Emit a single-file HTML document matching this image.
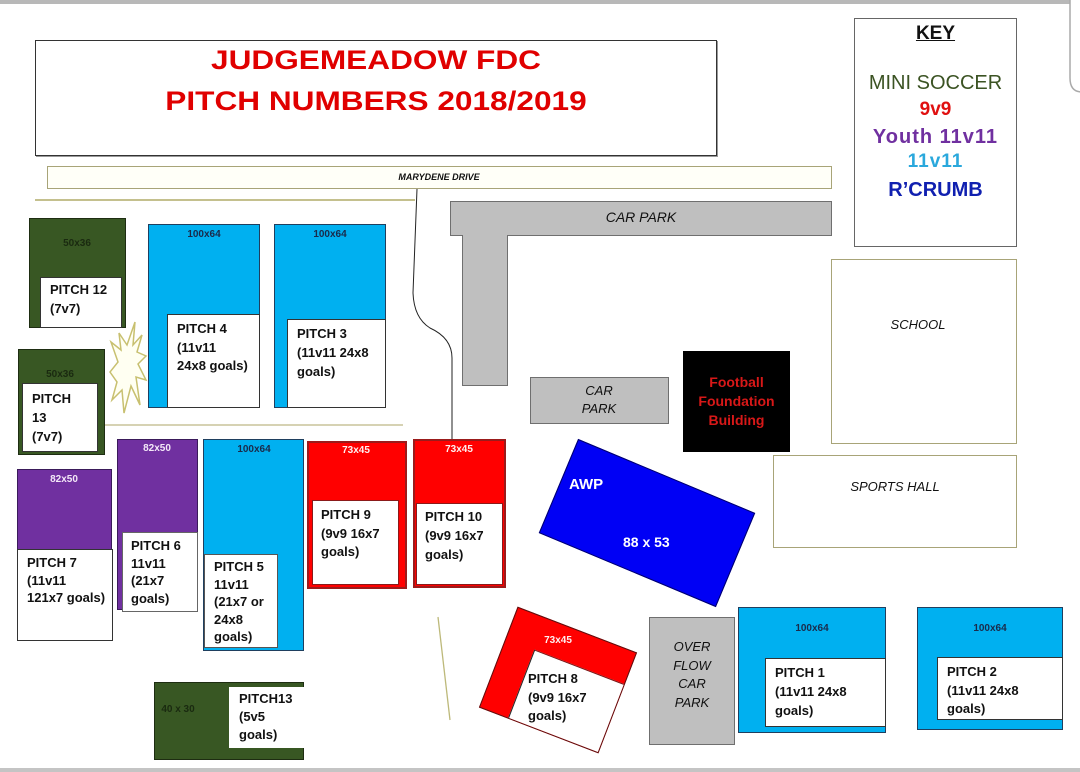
<!DOCTYPE html>
<html><head><meta charset="utf-8"><style>
html,body{margin:0;padding:0}
body{width:1080px;height:772px;position:relative;overflow:hidden;background:#fff;font-family:"Liberation Sans",sans-serif}
.a{position:absolute;box-sizing:border-box}
.g{background:#385723;border:1.5px solid #1e2d12}
.b{background:#00b0f0;border:1px solid #1f3f5f}
.p{background:#7030a0;border:1px solid #3a1a5a}
.r{background:#ff0000;border:2px solid #9b1b1b}
.w{background:#fff;border:1px solid #333}
.gr{background:#bfbfbf;border:1.5px solid #6f6f6f}
.lbl{position:absolute;font-weight:bold;font-size:13px;color:#111;white-space:nowrap}
.sz{position:absolute;font-weight:bold;font-size:10px;line-height:10px;white-space:nowrap;transform:translateX(-50%)}
.it{position:absolute;font-style:italic;color:#111;white-space:nowrap;transform:translateX(-50%);text-align:center}
.k{position:absolute;left:854px;width:163px;text-align:center;white-space:nowrap;line-height:20px}
</style></head><body>

<!-- frame edges -->
<div class="a" style="left:0;top:0;width:1070px;height:4px;background:#b8b8b8"></div>
<div class="a" style="left:0;top:768px;width:1080px;height:4px;background:#c4c4c4"></div>

<svg class="a" style="left:0;top:0" width="1080" height="772">
  <path d="M1070 0 L1070 78 Q1070 92 1082 92" fill="none" stroke="#aaa" stroke-width="1.5"/>
  <line x1="35" y1="200" x2="415" y2="200" stroke="#c4c08e" stroke-width="2"/>
  <line x1="104" y1="425" x2="403" y2="425" stroke="#c8c49a" stroke-width="1.5"/>
  <path d="M417 189 L413 293 Q414 318 430 328 Q452 338 452 358 L452 439" fill="none" stroke="#222" stroke-width="1"/>
  <line x1="438" y1="617" x2="450" y2="720" stroke="#bdb97a" stroke-width="1.3"/>
  <polygon points="135,322 133,345 142,335 137,352 146,356 138,364 146,380 136,377 140,405 131,386 124,413 122,390 112,400 117,382 110,372 118,362 111,342 121,350 119,333 127,345" fill="#fffff2" stroke="#c8c070" stroke-width="1.5"/>
</svg>

<!-- title -->
<div class="a" style="left:35px;top:40px;width:682px;height:116px;border:1px solid #333;box-shadow:1px 1px 0 #999"></div>
<div class="a" style="left:35px;top:40px;width:682px;text-align:center;color:#e00000;font-weight:bold;font-size:27px;line-height:41px;transform:scaleX(1.17);transform-origin:50% 0;white-space:nowrap">JUDGEMEADOW FDC<br>PITCH NUMBERS 2018/2019</div>

<!-- road -->
<div class="a" style="left:47px;top:166px;width:785px;height:23px;border:1px solid #a8a478;background:#fffff8"></div>
<div class="it" style="left:439px;top:172px;font-size:9px;font-weight:bold;line-height:10px">MARYDENE DRIVE</div>

<!-- key -->
<div class="a" style="left:854px;top:18px;width:163px;height:229px;border:1.5px solid #666"></div>
<div class="k" style="top:24px;font-weight:bold;font-size:19px;text-decoration:underline;color:#111">KEY</div>
<div class="k" style="top:73px;font-size:20px;color:#3b5323">MINI SOCCER</div>
<div class="k" style="top:100px;font-weight:bold;font-size:19px;color:#e01010">9v9</div>
<div class="k" style="top:127px;font-weight:bold;font-size:20px;color:#7030a0;letter-spacing:1px">Youth 11v11</div>
<div class="k" style="top:152px;font-weight:bold;font-size:19px;color:#2aa8dc;letter-spacing:1px">11v11</div>
<div class="k" style="top:180px;font-weight:bold;font-size:20px;color:#1020b0">R’CRUMB</div>

<!-- school / sports hall -->
<div class="a" style="left:831px;top:259px;width:186px;height:185px;border:1px solid #a8a478"></div>
<div class="it" style="left:918px;top:318px;font-size:13px;line-height:14px">SCHOOL</div>
<div class="a" style="left:773px;top:455px;width:244px;height:93px;border:1px solid #a8a478"></div>
<div class="it" style="left:895px;top:480px;font-size:13px;line-height:14px">SPORTS HALL</div>

<!-- car parks -->
<div class="a gr" style="left:450px;top:201px;width:382px;height:35px"></div>
<div class="it" style="left:641px;top:210px;font-size:14px;line-height:14px">CAR PARK</div>
<div class="a gr" style="left:462px;top:235px;width:46px;height:151px;border-top:none"></div>
<div class="a gr" style="left:530px;top:377px;width:139px;height:47px"></div>
<div class="it" style="left:599px;top:382px;font-size:13px;line-height:18px">CAR<br>PARK</div>

<!-- football foundation -->
<div class="a" style="left:683px;top:351px;width:107px;height:101px;background:#000"></div>
<div class="a" style="left:683px;top:373px;width:107px;text-align:center;color:#d81818;font-weight:bold;font-size:14px;line-height:19px">Football<br>Foundation<br>Building</div>

<!-- AWP -->
<div class="a" style="left:551px;top:472px;width:192px;height:102px;background:#0000f5;border:1px solid #00006a;transform:rotate(22.7deg)"></div>
<div class="a" style="left:569px;top:477px;color:#fff;font-weight:bold;font-size:15px;line-height:15px">AWP</div>
<div class="a" style="left:623px;top:535px;color:#fff;font-weight:bold;font-size:14px;line-height:14px">88 x 53</div>

<!-- Pitch 12 -->
<div class="a g" style="left:29px;top:218px;width:97px;height:110px"></div>
<div class="a w" style="left:40px;top:277px;width:82px;height:51px"></div>
<div class="sz" style="left:77px;top:239px;color:#1a2a10">50x36</div>
<div class="lbl" style="left:50px;top:280px;line-height:19px">PITCH 12<br>(7v7)</div>

<!-- Pitch 13 -->
<div class="a g" style="left:18px;top:349px;width:87px;height:106px"></div>
<div class="a w" style="left:22px;top:383px;width:76px;height:69px"></div>
<div class="sz" style="left:60px;top:370px;color:#1a2a10">50x36</div>
<div class="lbl" style="left:32px;top:389px;line-height:19px">PITCH<br>13<br>(7v7)</div>

<!-- Pitch 4 -->
<div class="a b" style="left:148px;top:224px;width:112px;height:184px"></div>
<div class="a w" style="left:167px;top:314px;width:93px;height:94px"></div>
<div class="sz" style="left:204px;top:230px;color:#1a2a4a">100x64</div>
<div class="lbl" style="left:177px;top:320px;line-height:18.5px">PITCH 4<br>(11v11<br>24x8 goals)</div>

<!-- Pitch 3 -->
<div class="a b" style="left:274px;top:224px;width:112px;height:184px"></div>
<div class="a w" style="left:287px;top:319px;width:99px;height:89px"></div>
<div class="sz" style="left:330px;top:230px;color:#1a2a4a">100x64</div>
<div class="lbl" style="left:297px;top:324px;line-height:19px">PITCH 3<br>(11v11 24x8<br>goals)</div>

<!-- Pitch 7 -->
<div class="a p" style="left:17px;top:469px;width:95px;height:172px"></div>
<div class="a w" style="left:17px;top:549px;width:96px;height:92px"></div>
<div class="sz" style="left:64px;top:475px;color:#f4e8f8">82x50</div>
<div class="lbl" style="left:27px;top:554px;line-height:17.5px">PITCH 7<br>(11v11<br>121x7 goals)</div>

<!-- Pitch 6 -->
<div class="a p" style="left:117px;top:439px;width:81px;height:171px"></div>
<div class="a w" style="left:122px;top:532px;width:76px;height:80px;border-color:#666"></div>
<div class="sz" style="left:157px;top:444px;color:#f4e8f8">82x50</div>
<div class="lbl" style="left:131px;top:537px;line-height:17.7px">PITCH 6<br>11v11<br>(21x7<br>goals)</div>

<!-- Pitch 5 -->
<div class="a b" style="left:203px;top:439px;width:101px;height:212px"></div>
<div class="a w" style="left:204px;top:554px;width:74px;height:94px;border-color:#555"></div>
<div class="sz" style="left:254px;top:445px;color:#1a2a4a">100x64</div>
<div class="lbl" style="left:214px;top:558px;line-height:17.5px">PITCH 5<br>11v11<br>(21x7 or<br>24x8<br>goals)</div>

<!-- Pitch 9 -->
<div class="a r" style="left:307px;top:441px;width:100px;height:148px"></div>
<div class="a w" style="left:312px;top:500px;width:87px;height:85px;border-color:#8b1a1a"></div>
<div class="sz" style="left:356px;top:446px;color:#fff0f0">73x45</div>
<div class="lbl" style="left:321px;top:506px;line-height:18.5px">PITCH 9<br>(9v9 16x7<br>goals)</div>

<!-- Pitch 10 -->
<div class="a r" style="left:413px;top:439px;width:93px;height:149px"></div>
<div class="a w" style="left:416px;top:503px;width:87px;height:82px;border-color:#8b1a1a"></div>
<div class="sz" style="left:459px;top:445px;color:#fff0f0">73x45</div>
<div class="lbl" style="left:425px;top:507px;line-height:19px">PITCH 10<br>(9v9 16x7<br>goals)</div>

<!-- Pitch 13 5v5 -->
<div class="a g" style="left:154px;top:682px;width:150px;height:78px"></div>
<div class="a w" style="left:229px;top:687px;width:75px;height:61px;border:none"></div>
<div class="sz" style="left:178px;top:705px;color:#1a2a10">40 x 30</div>
<div class="lbl" style="left:239px;top:690px;line-height:18px">PITCH13<br>(5v5<br>goals)</div>

<!-- Pitch 8 rotated -->
<div class="a" style="left:494px;top:626px;width:128px;height:108px;transform:rotate(21deg);background:#ff0000;border:1.5px solid #5a1010">
  <div class="a" style="left:30px;top:33px;right:0;bottom:0;background:#fff;border-left:1.5px solid #222;border-top:1px solid #7a1010"></div>
</div>
<div class="sz" style="left:558px;top:636px;color:#fff0f0">73x45</div>
<div class="lbl" style="left:528px;top:670px;line-height:18.5px">PITCH 8<br>(9v9 16x7<br>goals)</div>

<!-- Overflow car park -->
<div class="a gr" style="left:649px;top:617px;width:86px;height:128px"></div>
<div class="it" style="left:692px;top:638px;font-size:13px;line-height:18.7px">OVER<br>FLOW<br>CAR<br>PARK</div>

<!-- Pitch 1 -->
<div class="a b" style="left:738px;top:607px;width:148px;height:126px"></div>
<div class="a w" style="left:765px;top:658px;width:121px;height:69px"></div>
<div class="sz" style="left:812px;top:624px;color:#1a2a4a">100x64</div>
<div class="lbl" style="left:775px;top:663px;line-height:19px">PITCH 1<br>(11v11 24x8<br>goals)</div>

<!-- Pitch 2 -->
<div class="a b" style="left:917px;top:607px;width:146px;height:123px"></div>
<div class="a w" style="left:937px;top:657px;width:126px;height:63px"></div>
<div class="sz" style="left:990px;top:624px;color:#1a2a4a">100x64</div>
<div class="lbl" style="left:947px;top:663px;line-height:18.5px">PITCH 2<br>(11v11 24x8<br>goals)</div>

</body></html>
